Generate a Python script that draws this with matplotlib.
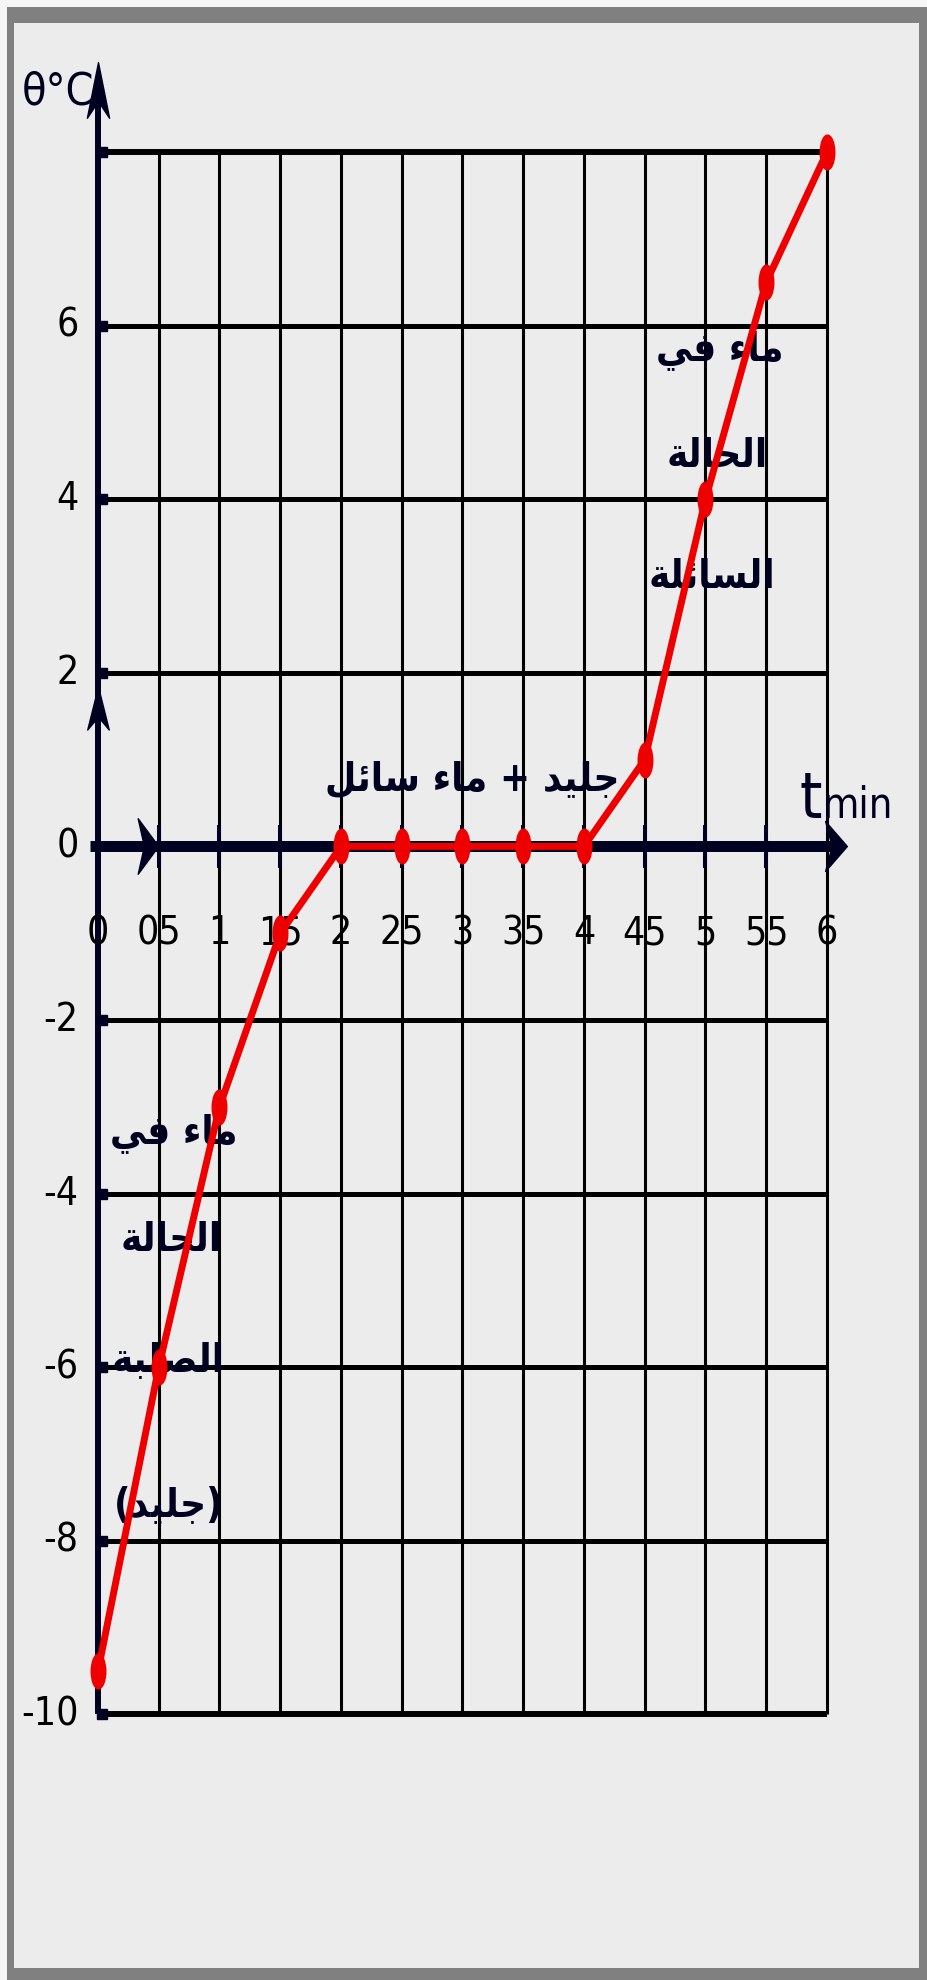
import matplotlib
matplotlib.use("Agg")
import matplotlib.pyplot as plt
from matplotlib import font_manager
from matplotlib.patches import Rectangle
from matplotlib.path import Path
from matplotlib.transforms import Affine2D

# values
t_min = [0, 0.5, 1, 1.5, 2, 2.5, 3, 3.5, 4, 4.5, 5, 5.5, 6]
theta_c = [-9.5, -6, -3, -1, 0, 0, 0, 0, 0, 1, 4, 6.5, 8]

x_grid = [0.5, 1, 1.5, 2, 2.5, 3, 3.5, 4, 4.5, 5, 5.5, 6]
x_labels = ["0", "05", "1", "15", "2", "25", "3", "35", "4", "45", "5", "55", "6"]
y_grid = [8, 6, 4, 2, -2, -4, -6, -8, -10]
y_labels = [6, 4, 2, 0, -2, -4, -6, -8, -10]

text_mid = "جليد + ماء سائل"
text_solid = ["ماء في", "الحالة", "الصلبة", "(جليد)"]
text_liquid = ["ماء في", "الحالة", "السائلة"]

# layout, from pixel measurements of the picture
W, H = 928, 1980
PX_X, PX_Y = 121.5, 86.8       # pixels per unit
ORG_X, ORG_Y = 98, 846.4       # pixel of (0, 0)

NAVY = "#000020"
RED = "#ee0000"
BG = "#ececec"

# narrow font if there is one
names = {f.name for f in font_manager.fontManager.ttflist}
if "Liberation Sans Narrow" in names:
    NARROW = dict(family=["Liberation Sans Narrow", "DejaVu Sans"])
else:
    NARROW = dict(family=["DejaVu Sans"], fontstretch="condensed")

# tiny arabic shaper: (isolated, final, initial, medial)
FORMS = {
    "\u0621": ("\uFE80", None, None, None),
    "\u0626": ("\uFE89", "\uFE8A", "\uFE8B", "\uFE8C"),
    "\u0627": ("\uFE8D", "\uFE8E", None, None),
    "\u0628": ("\uFE8F", "\uFE90", "\uFE91", "\uFE92"),
    "\u0629": ("\uFE93", "\uFE94", None, None),
    "\u062C": ("\uFE9D", "\uFE9E", "\uFE9F", "\uFEA0"),
    "\u062D": ("\uFEA1", "\uFEA2", "\uFEA3", "\uFEA4"),
    "\u062F": ("\uFEA9", "\uFEAA", None, None),
    "\u0633": ("\uFEB1", "\uFEB2", "\uFEB3", "\uFEB4"),
    "\u0635": ("\uFEB9", "\uFEBA", "\uFEBB", "\uFEBC"),
    "\u0641": ("\uFED1", "\uFED2", "\uFED3", "\uFED4"),
    "\u0644": ("\uFEDD", "\uFEDE", "\uFEDF", "\uFEE0"),
    "\u0645": ("\uFEE1", "\uFEE2", "\uFEE3", "\uFEE4"),
    "\u064A": ("\uFEF1", "\uFEF2", "\uFEF3", "\uFEF4"),
}


def shape_ar(s):
    out = []
    for i, c in enumerate(s):
        f = FORMS.get(c)
        if f is None:
            out.append(c)
            continue
        prev = FORMS.get(s[i - 1]) if i > 0 else None
        nxt = FORMS.get(s[i + 1]) if i + 1 < len(s) else None
        jp = prev is not None and prev[2] is not None and f[1] is not None
        jn = nxt is not None and nxt[1] is not None and f[2] is not None
        if jp and jn:
            out.append(f[3])
        elif jp:
            out.append(f[1])
        elif jn:
            out.append(f[2])
        else:
            out.append(f[0])
    vis = "".join(reversed(out))
    return vis.translate(str.maketrans("()", ")("))


def px_rect(x0, y0, x1, y1, color):
    fig.add_artist(Rectangle((x0 / W, 1 - y1 / H), (x1 - x0) / W, (y1 - y0) / H,
                             transform=fig.transFigure, color=color, lw=0))


def up_arrow(aspect):
    return Path([(0, 1), (aspect, -1), (0, -0.4), (-aspect, -1), (0, 1)], closed=True)


def right_arrow(aspect):
    return Path([(1, 0), (-1, aspect), (-0.4, 0), (-1, -aspect), (1, 0)], closed=True)


fig = plt.figure(figsize=(W / 100, H / 100), dpi=100, facecolor=BG)
ax = fig.add_axes([0, 0, 1, 1])
ax.set_xlim(-ORG_X / PX_X, (W - ORG_X) / PX_X)
ax.set_ylim(-(H - ORG_Y) / PX_Y, ORG_Y / PX_Y)
ax.axis("off")

# frame of the picture
px_rect(0, 0, W, 7, "#f6f6f6")
px_rect(0, 0, 7, H, "#f6f6f6")
px_rect(7, 7, W, 23, "#808080")
px_rect(7, 7, 14, H, "#808080")
px_rect(7, 1968, W, H, "#808080")
px_rect(919, 7, W, H, "#808080")

x_max = x_grid[-1]
y_top, y_bot = y_grid[0], y_grid[-1]

# grid
ax.vlines(x_grid, y_bot, y_top, color="black", lw=2.2, zorder=1)
for y in y_grid:
    lw = 4.3 if y in (y_top, y_bot) else 3.6
    ax.hlines(y, 0, x_max, color="black", lw=lw, zorder=1)

# axes lines
ax.plot([-0.066, x_max + 0.1], [0, 0], color=NAVY, lw=7.9, solid_capstyle="butt", zorder=2)
ax.plot([0, 0], [y_bot, y_top + 0.8], color=NAVY, lw=4.3, solid_capstyle="butt", zorder=2)
ax.vlines(x_grid[:-1], -0.25, 0.25, color=NAVY, lw=2.9, zorder=2)
ax.plot([0.03] * len(y_grid), y_grid, ls="none", marker="s", ms=7, color=NAVY, zorder=2)

# arrow heads
ax.plot([x_max + 0.07], [0], marker=right_arrow(2.3), ms=36, color=NAVY, ls="none", zorder=2)
ax.plot([0.41], [0], marker=right_arrow(2.7), ms=40, color=NAVY, ls="none", zorder=2)
ax.plot([0], [y_top + 0.72], marker=up_arrow(0.4), ms=40, color=NAVY, ls="none", zorder=2)
ax.plot([0], [1.59], marker=up_arrow(0.5), ms=31, color=NAVY, ls="none", zorder=2)

# tick labels
for x, lab in zip([0] + x_grid, x_labels):
    ax.text(x, -1.0, lab, ha="center", va="center", fontsize=28, color="black", **NARROW)
for y in y_labels:
    ax.text(-0.16, y, str(y), ha="right", va="center", fontsize=28, color="black", **NARROW)

# axis titles
ax.text(-0.33, 8.69, "θ°C", ha="center", va="center", fontsize=32, color=NAVY, **NARROW)
ax.text(5.87, 0.33, "t", ha="center", va="baseline", fontsize=46, color=NAVY, **NARROW)
ax.text(6.25, 0.33, "min", ha="center", va="baseline", fontsize=30, color=NAVY, **NARROW)

# arabic notes
ar = dict(ha="center", va="center", fontsize=29, fontweight="bold",
          family=["DejaVu Sans"], fontstretch="condensed", color=NAVY, zorder=3)
ax.text(3.08, 0.77, shape_ar(text_mid), **ar)
for (x, y), s in zip([(0.62, -3.30), (0.60, -4.53), (0.58, -5.92), (0.58, -7.59)], text_solid):
    ax.text(x, y, shape_ar(s), **ar)
for (x, y), s in zip([(5.12, 5.72), (5.10, 4.50), (5.05, 3.10)], text_liquid):
    ax.text(x, y, shape_ar(s), **ar)

# the heating curve
dot = Path.unit_circle().transformed(Affine2D().scale(0.42, 1))
ax.plot(t_min, theta_c, color=RED, lw=5, marker=dot, ms=25, zorder=5)

fig.savefig("out.png", dpi=100, facecolor=BG)
